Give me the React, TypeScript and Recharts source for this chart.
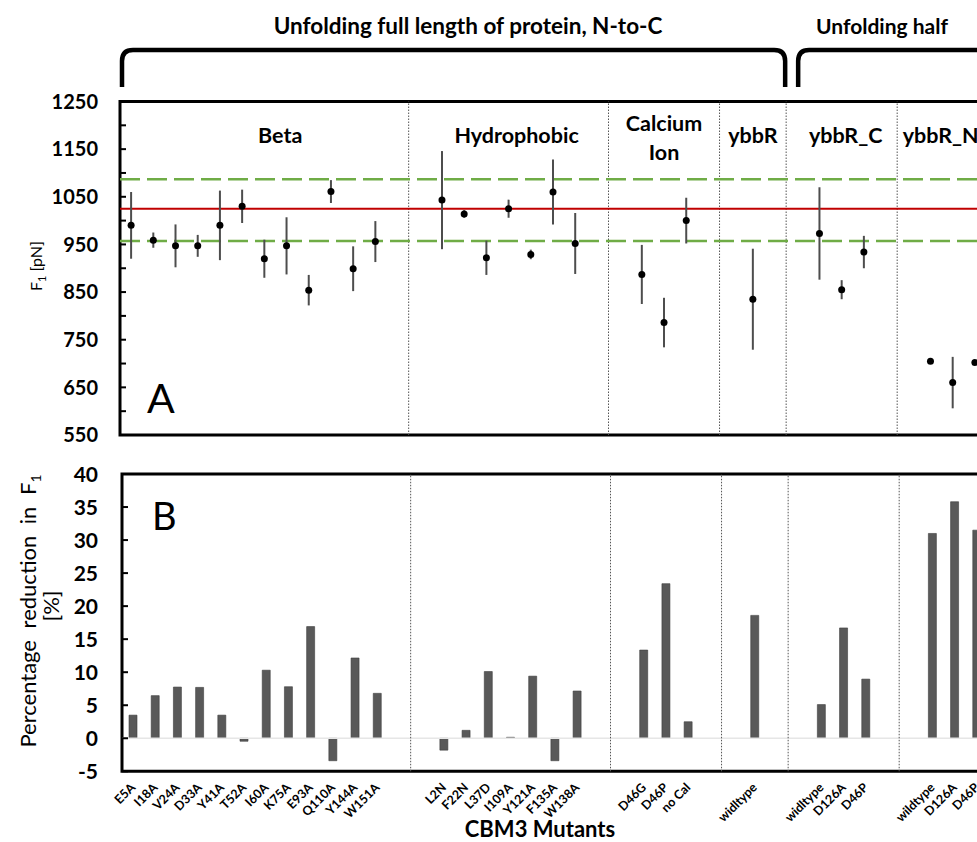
import React from "react";
import {
  Bar,
  ComposedChart,
  ErrorBar,
  ReferenceArea,
  ReferenceLine,
  Scatter,
  XAxis,
  YAxis,
} from "recharts";

// CBM3 mutants, empty strings are the gaps between groups
const mutants = [
  "E5A", "I18A", "V24A", "D33A", "Y41A", "T52A", "I60A", "K75A", "E93A", "Q110A", "Y144A", "W151A",
  "", "",
  "L2N", "F22N", "L37D", "I109A", "Y121A", "F135A", "W138A",
  "", "",
  "D46G", "D46P", "no Cal",
  "", "",
  "widltype",
  "", "",
  "widltype", "D126A", "D46P",
  "", "",
  "wildtype", "D126A", "D46P",
];

const groupTitles = [["Beta"], ["Hydrophobic"], ["Calcium", "Ion"], ["ybbR"], ["ybbR_C"], ["ybbR_N"]];

// F1 [pN] and its error
const forceF1 = [
  990, 959, 947, 947, 990, 1030, 920, 947, 854, 1061, 899, 956,
  null, null,
  1043, 1014, 922, 1025, 929, 1060, 952,
  null, null,
  887, 786, 1000,
  null, null,
  835,
  null, null,
  973, 855, 934,
  null, null,
  705, 660, 702,
];
const forceErr = [
  70, 16, 45, 23, 73, 35, 40, 60, 32, 24, 47, 43,
  null, null,
  103, 8, 36, 19, 10, 68, 64,
  null, null,
  62, 52, 48,
  null, null,
  106,
  null, null,
  97, 20, 34,
  null, null,
  0, 54, 0,
];

// percentage reduction in F1
const reduction = [
  3.5, 6.45, 7.75, 7.7, 3.5, -0.45, 10.3, 7.8, 16.9, -3.4, 12.15, 6.8,
  null, null,
  -1.8, 1.2, 10.1, 0.15, 9.4, -3.4, 7.15,
  null, null,
  13.35, 23.4, 2.5,
  null, null,
  18.6,
  null, null,
  5.1, 16.7, 8.95,
  null, null,
  31.0, 35.8, 31.5,
];

const forceTicks = [550, 600, 650, 700, 750, 800, 850, 900, 950, 1000, 1050, 1100, 1150, 1200, 1250];
const forceLabelled = [550, 650, 750, 850, 950, 1050, 1150, 1250];
const reductionTicks = [-5, 0, 5, 10, 15, 20, 25, 30, 35, 40];
const meanF1 = 1025;
const bandF1 = [957, 1087];

const rows = mutants.map((name, i) => ({
  pos: i,
  name,
  f1: forceF1[i],
  err: forceErr[i],
  red: reduction[i],
}));
const points = rows.filter((r) => r.f1 !== null);
const labelTicks = rows.filter((r) => r.name).map((r) => r.pos);

// runs of consecutive mutants form the groups
const groups: { start: number; end: number }[] = [];
rows.forEach((r) => {
  if (!r.name) return;
  const last = groups[groups.length - 1];
  if (last && last.end === r.pos - 1) last.end = r.pos;
  else groups.push({ start: r.pos, end: r.pos });
});
const dividers = groups.slice(1).map((g, i) => (groups[i].end + g.start) / 2);

// layout
const W = 1000;
const PLOT_LEFT = 120;
const PLOT_W = 866;
const slotW = PLOT_W / mutants.length;
const slotX = (s: number) => PLOT_LEFT + (s + 0.5) * slotW;
const xDomain = [-0.5, mutants.length - 0.5];
const titleNudge = [27, 8, 0, 0, 4, -12];

const FONT = "Lato, 'Open Sans', sans-serif";

const ForceTick = (props: any) => {
  const { x, y, payload } = props;
  const v = payload.value;
  return (
    <g>
      <line x1={x} x2={x + 6} y1={y} y2={y} stroke="#000" strokeWidth={2} />
      {forceLabelled.includes(v) && (
        <text x={x - 22} y={y} dy="0.36em" textAnchor="end" fontFamily={FONT} fontWeight={700} fontSize={20} fill="#000">
          {v}
        </text>
      )}
    </g>
  );
};

const ReductionTick = (props: any) => {
  const { x, y, payload } = props;
  return (
    <g>
      <line x1={x} x2={x + 6} y1={y} y2={y} stroke="#000" strokeWidth={2} />
      <text x={x - 24} y={y} dy="0.36em" textAnchor="end" fontFamily={FONT} fontWeight={700} fontSize={21} fill="#000">
        {payload.value}
      </text>
    </g>
  );
};

const MutantTick = (props: any) => {
  const { x, y, payload } = props;
  const tx = x + 3;
  const ty = y + 17;
  return (
    <text
      x={tx}
      y={ty}
      textAnchor="end"
      transform={`rotate(-45 ${tx} ${ty})`}
      fontFamily={FONT}
      fontWeight={700}
      fontSize={12.5}
      fill="#000"
    >
      {mutants[payload.value]}
    </text>
  );
};

const Dot = (props: any) => <circle cx={props.cx} cy={props.cy} r={3.5} fill="#000" />;

function ForcePanel() {
  return (
    <ComposedChart
      width={W}
      height={455}
      data={rows}
      margin={{ top: 101.5, right: W - PLOT_LEFT - PLOT_W, bottom: 20, left: 0 }}
    >
      <XAxis type="number" dataKey="pos" domain={xDomain} hide />
      <YAxis
        type="number"
        domain={[550, 1250]}
        ticks={forceTicks}
        width={PLOT_LEFT}
        axisLine={false}
        tickLine={false}
        tickSize={0}
        tickMargin={0}
        tick={<ForceTick />}
        interval={0}
      />
      {dividers.map((d) => (
        <ReferenceLine key={d} x={d} stroke="#555" strokeWidth={1} strokeDasharray="1.5 1.5" />
      ))}
      <ReferenceLine y={bandF1[1]} stroke="#6FAC46" strokeWidth={2.5} strokeDasharray="20 7" />
      <ReferenceLine y={bandF1[0]} stroke="#6FAC46" strokeWidth={2.5} strokeDasharray="20 7" />
      <ReferenceLine y={meanF1} stroke="#C00000" strokeWidth={2} />
      <Scatter data={points} dataKey="f1" shape={<Dot />} isAnimationActive={false}>
        <ErrorBar dataKey="err" direction="y" width={0} stroke="#4d4d4d" strokeWidth={2} isAnimationActive={false} />
      </Scatter>
      <ReferenceArea
        x1={xDomain[0]}
        x2={xDomain[1]}
        y1={550}
        y2={1250}
        fill="none"
        stroke="#000"
        strokeWidth={3}
        ifOverflow="visible"
      />
    </ComposedChart>
  );
}

function ReductionPanel() {
  return (
    <ComposedChart
      width={W}
      height={402}
      data={rows}
      margin={{ top: 34, right: W - PLOT_LEFT - PLOT_W, bottom: 0.7, left: 0 }}
    >
      <XAxis
        type="number"
        dataKey="pos"
        domain={xDomain}
        ticks={labelTicks}
        interval={0}
        height={70}
        axisLine={false}
        tickLine={false}
        tickSize={0}
        tickMargin={0}
        tick={<MutantTick />}
      />
      <YAxis
        type="number"
        domain={[-5, 40]}
        ticks={reductionTicks}
        width={PLOT_LEFT}
        axisLine={false}
        tickLine={false}
        tickSize={0}
        tickMargin={0}
        tick={<ReductionTick />}
        interval={0}
      />
      <ReferenceLine y={0} stroke="#e6e6e6" strokeWidth={1.5} />
      {dividers.map((d) => (
        <ReferenceLine key={d} x={d} stroke="#555" strokeWidth={1} strokeDasharray="1.5 1.5" />
      ))}
      <Bar dataKey="red" barSize={8} fill="#595959" stroke="#3c3c3c" strokeWidth={0.6} isAnimationActive={false} />
      <ReferenceArea
        x1={xDomain[0]}
        x2={xDomain[1]}
        y1={-5}
        y2={40}
        fill="none"
        stroke="#000"
        strokeWidth={3}
        ifOverflow="visible"
      />
    </ComposedChart>
  );
}

function Overlay() {
  const split = slotX(dividers[3]);
  const fullL = PLOT_LEFT + 2;
  const fullR = split - 1;
  const halfL = split + 12;
  return (
    <svg width={977} height={842} style={{ position: "absolute", left: 0, top: 0, pointerEvents: "none" }}>
      <g fill="none" stroke="#000" strokeWidth={4.5}>
        <path d={`M ${fullL} 87 V 61 Q ${fullL} 50 ${fullL + 11} 50 H ${fullR - 11} Q ${fullR} 50 ${fullR} 61 V 87`} />
        <path d={`M ${halfL} 87 V 61 Q ${halfL} 50 ${halfL + 11} 50 H ${W}`} />
      </g>
      <g fontFamily={FONT} fontWeight={700} textAnchor="middle" fill="#000">
        <text x={468} y={34} fontSize={22.5}>Unfolding full length of protein, N-to-C</text>
        <text x={882} y={34} fontSize={21}>Unfolding half</text>
      </g>
      <g fontFamily={FONT} fontWeight={700} fontSize={21.5} textAnchor="middle" fill="#000">
        {groups.map((g, i) => {
          const cx = slotX((g.start + g.end) / 2) + titleNudge[i];
          const lines = groupTitles[i];
          return lines.map((ln, j) => (
            <text key={`${i}-${j}`} x={cx} y={lines.length > 1 ? 131 + j * 29 : 143}>
              {ln}
            </text>
          ));
        })}
      </g>
      <g fontFamily={FONT} fill="#000">
        <text x={147} y={413} fontSize={41}>A</text>
        <text x={152} y={530} fontSize={38}>B</text>
        <text transform="rotate(-90 42 266)" x={42} y={266} textAnchor="middle" fontSize={16}>
          F<tspan dy={4} fontSize={11}>1</tspan>
          <tspan dy={-4}> [pN]</tspan>
        </text>
        <text transform="rotate(-90 36 611)" x={36} y={611} textAnchor="middle" fontSize={22} wordSpacing={6}>
          Percentage reduction in F<tspan dy={5} fontSize={14}>1</tspan>
        </text>
        <text transform="rotate(-90 59 606)" x={59} y={606} textAnchor="middle" fontSize={22}>
          [%]
        </text>
        <text x={540} y={837} textAnchor="middle" fontSize={22} fontWeight={700}>
          CBM3 Mutants
        </text>
      </g>
    </svg>
  );
}

export default function App() {
  return (
    <div
      style={{
        position: "fixed",
        left: 0,
        top: 0,
        width: 977,
        height: 842,
        overflow: "hidden",
        background: "#fff",
      }}
    >
      <div style={{ position: "absolute", left: 0, top: 0 }}>
        <ForcePanel />
      </div>
      <div style={{ position: "absolute", left: 2, top: 440 }}>
        <ReductionPanel />
      </div>
      <Overlay />
    </div>
  );
}
